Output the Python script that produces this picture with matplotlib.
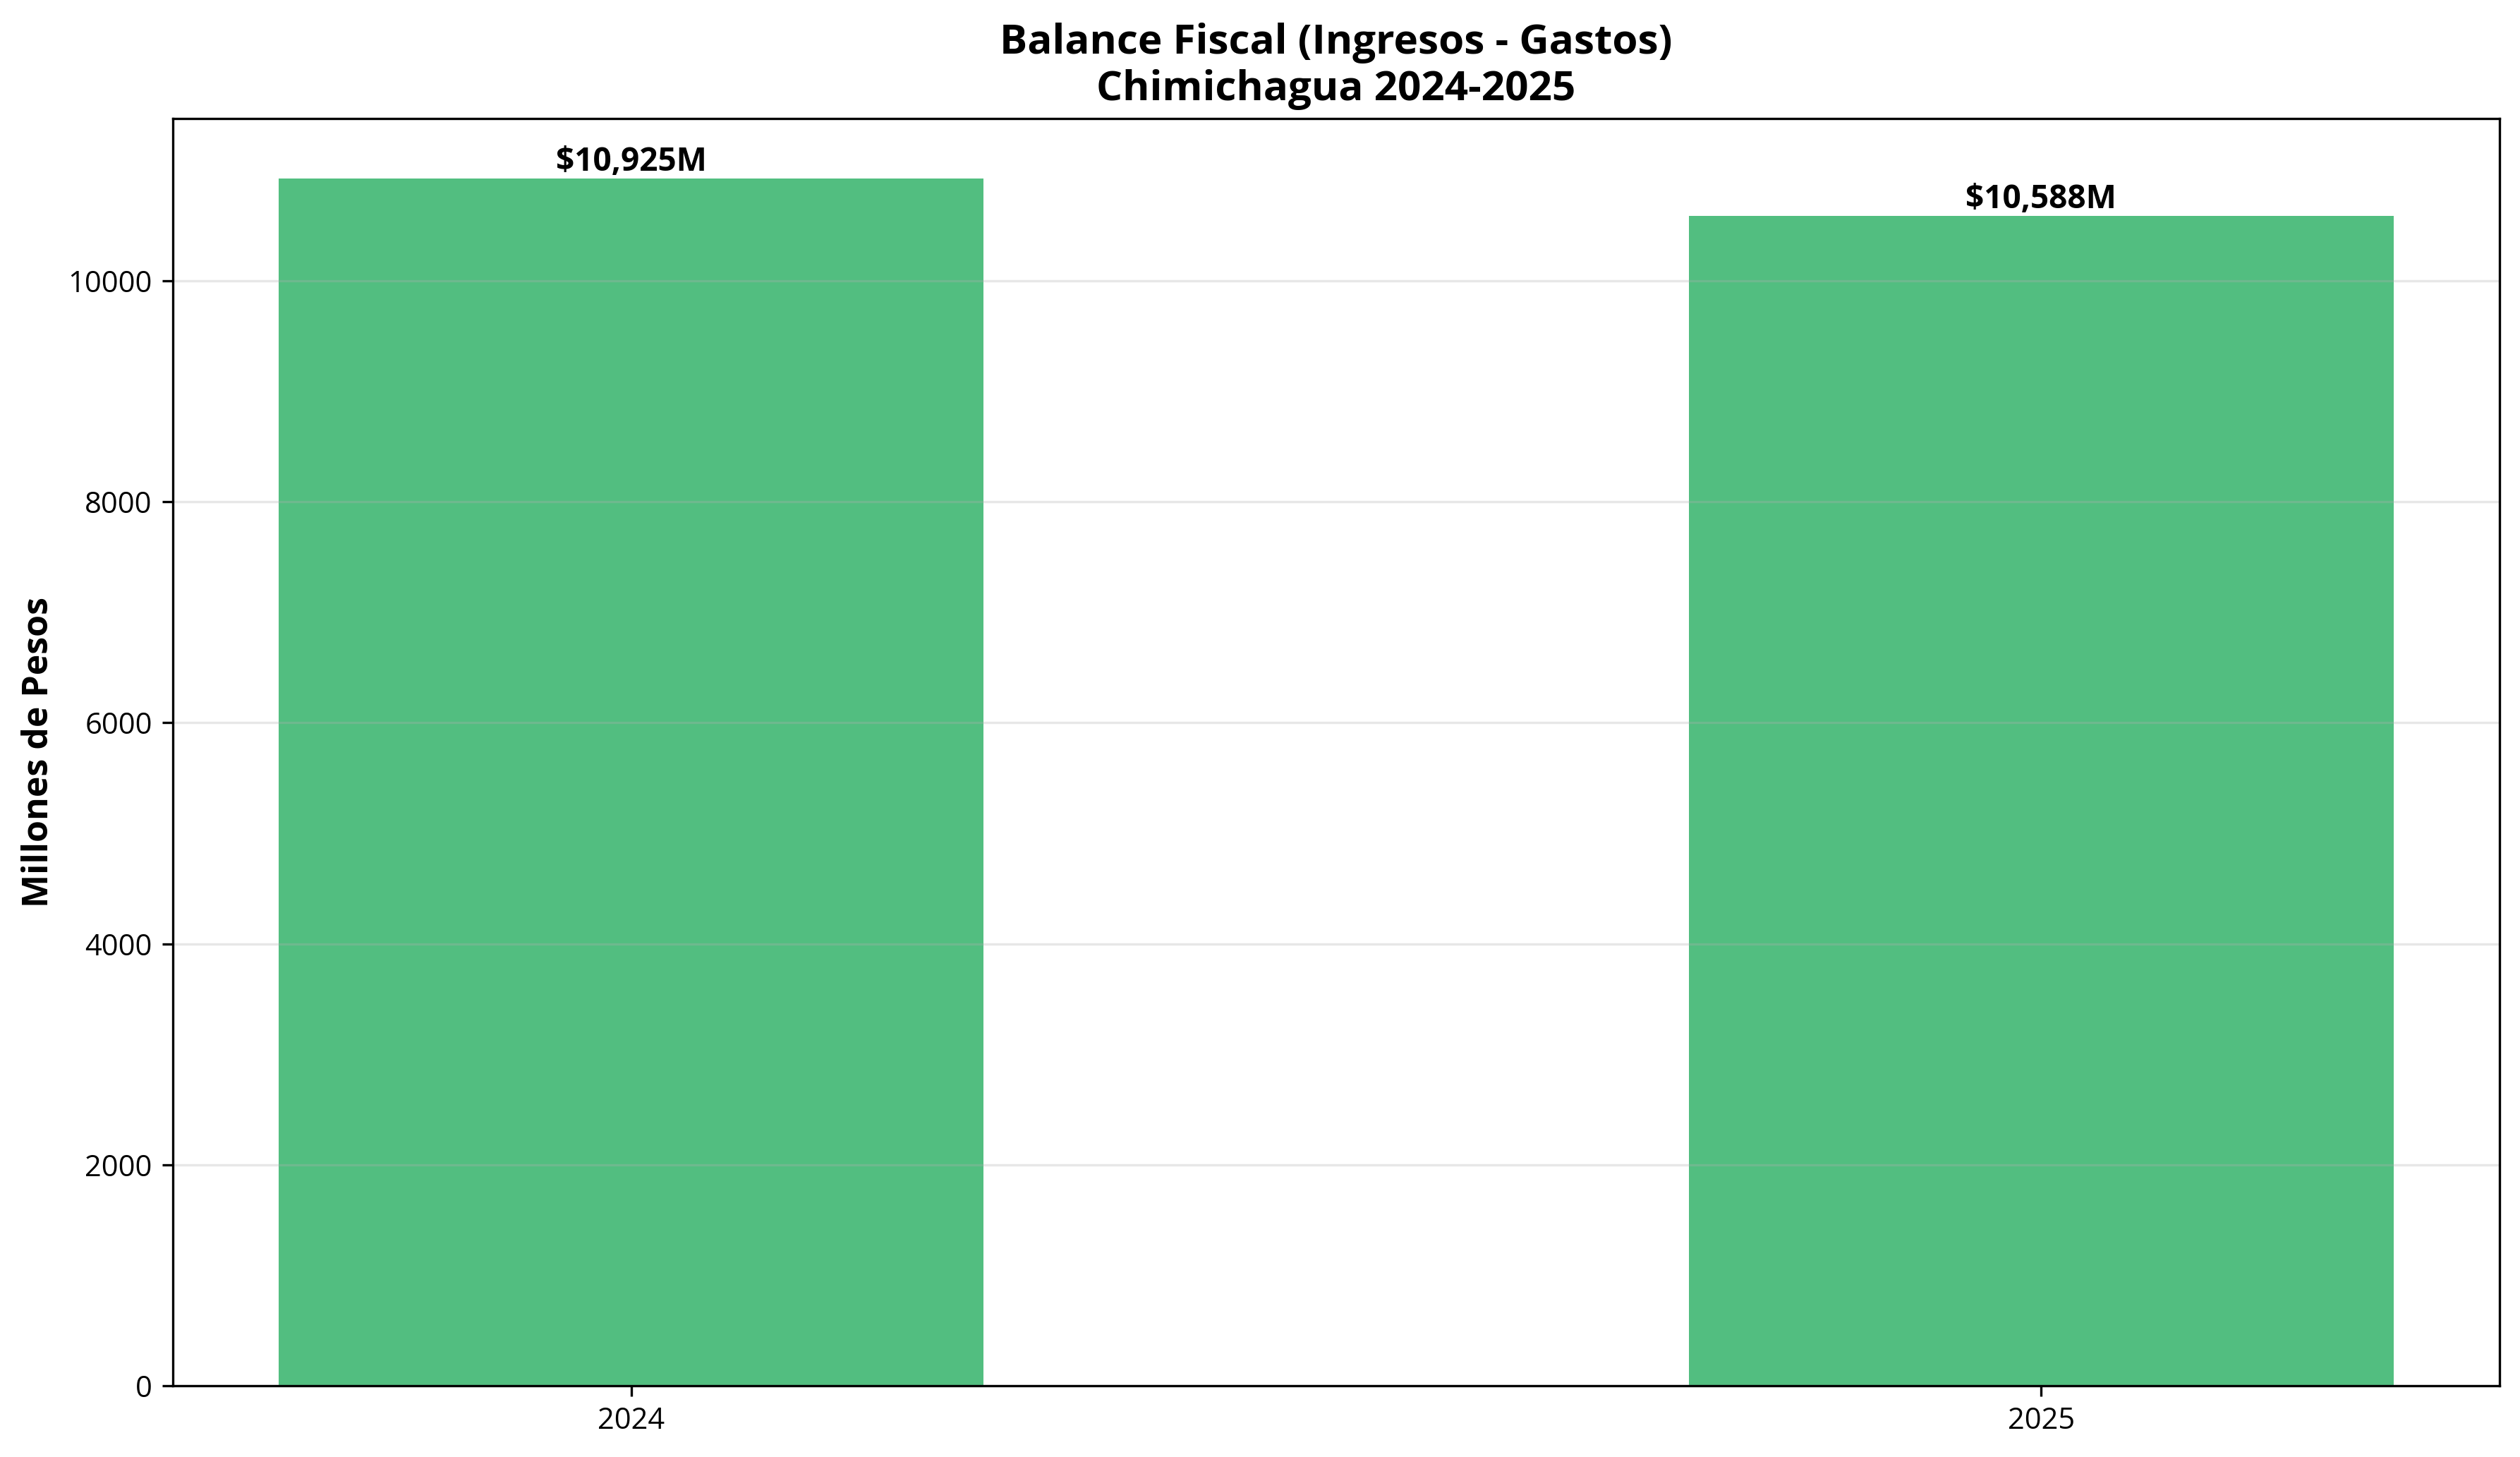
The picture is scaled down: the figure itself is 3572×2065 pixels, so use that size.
import matplotlib
matplotlib.use("Agg")
import matplotlib.pyplot as plt

plt.rcParams['font.family'] = ['Open Sans', 'Noto Sans', 'DejaVu Sans']

years = ['2024', '2025']
balance = [10925, 10588]
labels = ['$10,925M', '$10,588M']
bar_color = '#52BE80'

fig = plt.figure(figsize=(3572 / 300, 2065 / 300), dpi=300)
ax = fig.add_axes([245 / 3572, 1 - 1964 / 2065, (3543 - 245) / 3572, (1964 - 167.5) / 2065])

x = list(range(len(years)))
bars = ax.bar(x, balance, width=0.5, color=bar_color)
ax.set_xticks(x)
ax.set_xticklabels(years, fontsize=10)
ax.tick_params(axis='y', labelsize=10)
ax.set_ylim(0, max(balance) * 1.05)
ax.grid(axis='y', alpha=0.3)

for b, lab in zip(bars, labels):
    ax.text(b.get_x() + b.get_width() / 2, b.get_height(), lab,
            ha='center', va='bottom', fontsize=11, fontweight='bold')

ax.set_ylabel('Millones de Pesos', fontsize=12, fontweight='bold')
ax.set_title('Balance Fiscal (Ingresos - Gastos)\nChimichagua 2024-2025',
             fontsize=14, fontweight='bold')

fig.savefig('out.png', dpi=300)
